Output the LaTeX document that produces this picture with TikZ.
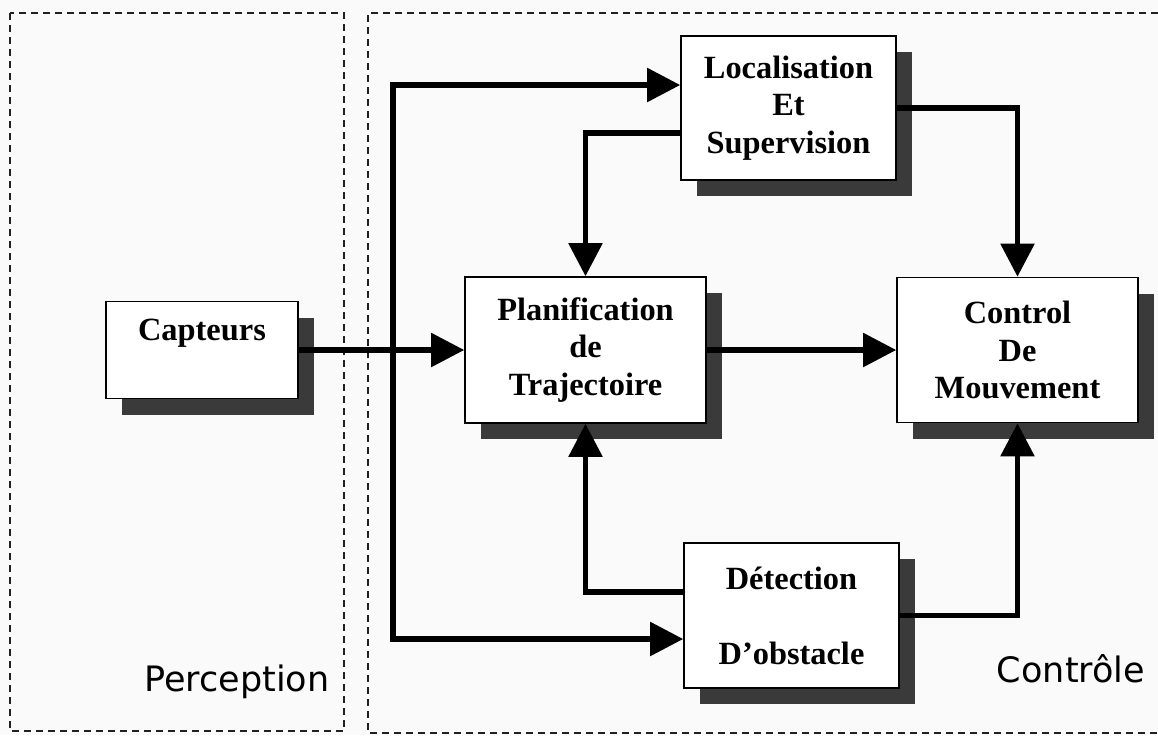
\documentclass[tikz,border=0pt]{standalone}
\usepackage{fontspec}
\setmainfont{Liberation Serif}
\newfontfamily\handfont{DejaVu Sans}
\usetikzlibrary{arrows.meta,shadows}
\definecolor{bgc}{RGB}{250,250,251}
\definecolor{shadowc}{RGB}{58,58,58}
\definecolor{framec}{RGB}{30,34,34}
\tikzset{tri/.tip={Triangle[length=16.5pt,width=16.5pt]}}
\begin{document}
\begin{tikzpicture}[x=0.5pt,y=-0.5pt,
  blk/.style={draw=black, line width=0.8pt, fill=white, align=center,
    font=\bfseries\fontsize{16.2}{18.75}\selectfont, inner sep=0pt,
    drop shadow={shadow xshift=8pt, shadow yshift=-8pt, fill=shadowc, opacity=1}},
  conn/.style={line width=2.7pt, -tri},
  frame/.style={draw=framec, line width=0.7pt, dash pattern=on 3.5pt off 2.5pt},
  lbl/.style={font=\handfont\fontsize{17.5}{20}\selectfont, inner sep=0pt}]
\fill[bgc] (0,0) rectangle (1158,735);
\useasboundingbox (0,0) rectangle (1158,735);
% region frames
\draw[frame] (10,13) rectangle (344,731);
\draw[frame] (1158,13) -- (368,13) -- (368,733) -- (1158,733);
% blocks
\node[blk, minimum width=96pt, minimum height=48.5pt] (cap) at (202,350) {Capteurs\\[-4pt]\strut};
\node[blk, minimum width=107.5pt, minimum height=72pt] (loc) at (788.5,108) {Localisation\\Et\\Supervision};
\node[blk, minimum width=120.5pt, minimum height=73pt] (plan) at (585.5,350) {Planification\\de\\Trajectoire};
\node[blk, minimum width=120.5pt, minimum height=72.5pt] (ctrl) at (1017.5,350) {Control\\De\\Mouvement};
\node[blk, minimum width=107.5pt, minimum height=72.5pt] (det) at (791.5,615.5) {Détection\\\strut\\D’obstacle};
% region labels
\node[lbl] (perc) at (237,682) {Perception};
\node[lbl] (ctl) at (1071,669) {Contrôle};
% connectors
\coordinate (tt) at (393,85);
\coordinate (tb) at (393,639);
\draw[conn] (cap) -- (plan);
\draw[line width=2.7pt, tri-tri] (det.west |- tb) -- (tb) -- (tt) -- (loc.west |- tt);
\draw[conn] ([yshift=-12.5pt]loc.west) -| (plan.north);
\draw[conn] (loc.east) -| (ctrl.north);
\draw[conn] (plan) -- (ctrl);
\draw[conn] ([yshift=11.75pt]det.west) -| (plan.south);
\draw[conn] (det.east) -| (ctrl.south);
\end{tikzpicture}
\end{document}
